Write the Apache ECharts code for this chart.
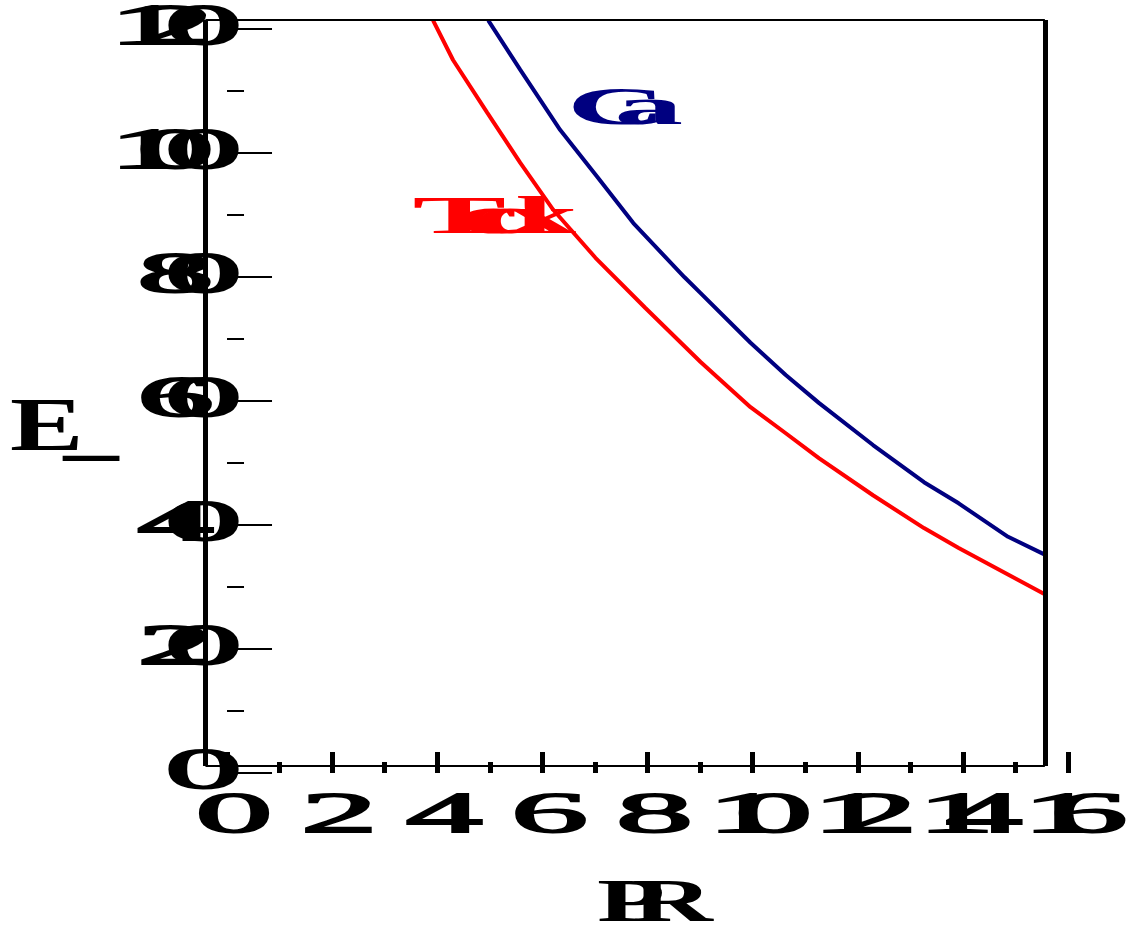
<!DOCTYPE html>
<html><head><meta charset="utf-8">
<script src="https://cdn.jsdelivr.net/npm/echarts@6/dist/echarts.min.js"></script>
<style>html,body{margin:0;padding:0;background:#fff}#c{width:1128px;height:929px}</style>
</head><body><div id="c"></div>
<script>
// ---- data ----
const xTickValues = [0, 2, 4, 6, 8, 10, 12, 14, 16];
const xMinorValues = [1, 3, 5, 7, 9, 11, 13, 15];
const yTickValues = [0, 20, 40, 60, 80, 100, 120];
const yMinorValues = [10, 30, 50, 70, 90, 110];
const xTickLabels = ['0', '2', '4', '6', '8', '10', '12', '14', '16'];
const yTickLabels = ['0', '20', '40', '60', '80', '100', '120'];
const blueX = [4.97, 5.58, 6.34, 7.05, 7.73, 8.70, 9.01, 9.96, 10.63, 11.26, 12.29, 13.26, 13.92, 14.86, 15.54];
const blueY = [121.4, 113.4, 103.7, 96.1, 88.7, 80.0, 77.4, 69.4, 64.2, 59.7, 52.9, 46.9, 43.5, 38.1, 35.3];
const redX = [3.92, 4.30, 4.95, 5.58, 6.21, 7.01, 7.96, 9.01, 9.96, 10.63, 11.26, 12.29, 13.26, 13.92, 15.54];
const redY = [121.4, 115.0, 106.5, 98.4, 90.8, 83.1, 75.0, 66.3, 59.0, 54.8, 50.8, 44.8, 39.5, 36.3, 28.9];
const blueName = 'Ca';
const redName = 'Tcdx';
const xTitle = 'PR';
const yTitle = 'E_';

// ---- layout / style ----
const frame = { xL: -0.41, xR: 15.56, yB: 1.13, yT: 121.45 };
const blueLabelAt = [7.66, 106.9];
const redLabelAt = [5.16, 89.2];
const FONT = '"Liberation Serif", "Times New Roman", serif';

const chart = echarts.init(document.getElementById('c'));
const zip = (a, b) => a.map((v, i) => [v, b[i]]);
const blk = '#000';

const option = {
  animation: false,
  backgroundColor: '#fff',
  grid: { left: 200, top: 15, right: 60, bottom: 156, containLabel: false },
  xAxis: [
    { type: 'value', min: -0.514, max: 16, position: 'bottom',
      axisLine: { show: false }, splitLine: { show: false }, axisLabel: { show: false },
      axisTick: { show: true, inside: true, length: 21, customValues: xTickValues, lineStyle: { color: blk, width: 5 } } },
    { type: 'value', min: -0.514, max: 16, position: 'bottom',
      axisLine: { show: false }, splitLine: { show: false }, axisLabel: { show: false },
      axisTick: { show: true, inside: true, length: 11, customValues: xMinorValues, lineStyle: { color: blk, width: 5 } } }
  ],
  yAxis: [
    { type: 'value', min: 0, max: 122.26, position: 'left', offset: -5,
      axisLine: { show: false }, splitLine: { show: false }, axisLabel: { show: false },
      axisTick: { show: true, inside: true, length: 45, customValues: yTickValues, lineStyle: { color: blk, width: 2 } } },
    { type: 'value', min: 0, max: 122.26, position: 'left', offset: -25,
      axisLine: { show: false }, splitLine: { show: false }, axisLabel: { show: false },
      axisTick: { show: true, inside: true, length: 17, customValues: yMinorValues, lineStyle: { color: blk, width: 2 } } }
  ],
  series: [
    { name: redName, type: 'line', data: zip(redX, redY), showSymbol: false, symbol: 'none',
      lineStyle: { color: '#ff0000', width: 4 }, itemStyle: { color: '#ff0000' }, z: 3,
      markLine: {
        silent: true, symbol: ['none', 'none'], label: { show: false }, animation: false,
        data: [
          [{ coord: [frame.xL, frame.yB], lineStyle: { color: blk, width: 2, type: 'solid' } }, { coord: [frame.xR, frame.yB] }],
          [{ coord: [frame.xL, frame.yT], lineStyle: { color: blk, width: 2, type: 'solid' } }, { coord: [frame.xR, frame.yT] }],
          [{ coord: [frame.xL, frame.yB], lineStyle: { color: blk, width: 5, type: 'solid' } }, { coord: [frame.xL, frame.yT] }],
          [{ coord: [frame.xR, frame.yB], lineStyle: { color: blk, width: 5, type: 'solid' } }, { coord: [frame.xR, frame.yT] }]
        ]
      } },
    { name: blueName, type: 'line', data: zip(blueX, blueY), showSymbol: false, symbol: 'none',
      lineStyle: { color: '#000080', width: 4 }, itemStyle: { color: '#000080' }, z: 3 }
  ]
};
chart.setOption(option);

// ---- stretched text labels (glyphs widened, advances kept) ----
const mctx = document.createElement('canvas').getContext('2d');
function stretched(str, px, py, align, size, sx, color, weight, strokeW) {
  const font = weight + ' ' + size + 'px ' + FONT;
  mctx.font = font;
  const chars = [...str];
  const widths = chars.map(c => mctx.measureText(c).width);
  const total = widths.reduce((a, b) => a + b, 0);
  let acc = align === 'left' ? px : (align === 'right' ? px - total : px - total / 2);
  const out = [];
  chars.forEach((c, i) => {
    const cx = acc + widths[i] / 2;
    const st = { text: c, font: font, fill: color, align: 'center', verticalAlign: 'middle',
                 textAlign: 'center', textVerticalAlign: 'middle' };
    if (strokeW) { st.stroke = color; st.lineWidth = strokeW; }
    out.push({ type: 'text', x: cx, y: py, scaleX: sx, silent: true, z: 100, style: st });
    acc += widths[i];
  });
  return out;
}
const toX = v => chart.convertToPixel({ xAxisIndex: 0 }, v);
const toY = v => chart.convertToPixel({ yAxisIndex: 0 }, v);
let els = [];
const baseY = toY(0);
const leftX = toX(frame.xL);
xTickValues.forEach((v, i) => { els = els.concat(stretched(xTickLabels[i], toX(v) + 7, baseY + 44, 'center', 56, 2.75, blk, 'normal', 1.8)); });
yTickValues.forEach((v, i) => { els = els.concat(stretched(yTickLabels[i], leftX + 12, toY(v), 'right', 56, 2.75, blk, 'normal', 1.8)); });
els = els.concat(stretched(redName, toX(redLabelAt[0]), toY(redLabelAt[1]), 'center', 52, 2.7, '#ff0000', 'bold', 0));
els = els.concat(stretched(blueName, toX(blueLabelAt[0]), toY(blueLabelAt[1]), 'center', 53, 2.6, '#000080', 'bold', 0));
els = els.concat(stretched(xTitle, toX(8) + 6, baseY + 132, 'center', 62, 1.8, blk, 'bold', 0));
els = els.concat(stretched(yTitle, leftX - 184, toY(55.3), 'left', 76, 1.45, blk, 'bold', 0));
chart.setOption({ graphic: { elements: els } });
</script></body></html>
